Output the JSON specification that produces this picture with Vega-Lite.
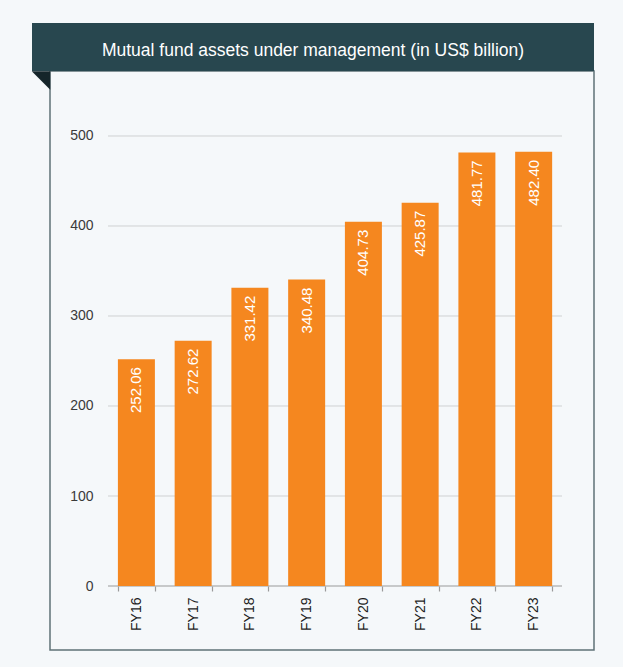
{
  "$schema": "https://vega.github.io/schema/vega-lite/v6.json",
  "width": 544,
  "height": 579,
  "autosize": {"type": "none"},
  "padding": {"left": 50, "top": 71, "right": 29, "bottom": 17},
  "background": "#f5f8fa",
  "config": {
    "font": "Liberation Sans",
    "view": {"stroke": "#5f7177", "strokeWidth": 1.5}
  },
  "datasets": {
    "aum": [
      {"year": "FY16", "value": 252.06},
      {"year": "FY17", "value": 272.62},
      {"year": "FY18", "value": 331.42},
      {"year": "FY19", "value": 340.48},
      {"year": "FY20", "value": 404.73},
      {"year": "FY21", "value": 425.87},
      {"year": "FY22", "value": 481.77},
      {"year": "FY23", "value": 482.40}
    ],
    "grid": [{"tick": 100}, {"tick": 200}, {"tick": 300}, {"tick": 400}, {"tick": 500}],
    "heading": [{"text": "Mutual fund assets under management (in US$ billion)"}]
  },
  "layer": [
    {
      "data": {"name": "grid"},
      "mark": {"type": "rule", "color": "#cfd1d2", "strokeWidth": 1},
      "encoding": {
        "x": {"datum": "FY16", "type": "nominal", "bandPosition": -0.2676, "title": null},
        "x2": {"datum": "FY23", "bandPosition": 1.266},
        "y": {"field": "tick", "type": "quantitative", "title": null}
      }
    },
    {
      "data": {"name": "heading"},
      "mark": {"type": "rule", "color": "#9a9a9a", "strokeWidth": 1.2},
      "encoding": {
        "x": {"datum": "FY16", "type": "nominal", "bandPosition": -0.2676, "title": null},
        "x2": {"datum": "FY23", "bandPosition": 1.266},
        "y": {"datum": 0, "type": "quantitative", "title": null}
      }
    },
    {
      "data": {"name": "aum"},
      "mark": {"type": "bar", "color": "#f5871f"},
      "encoding": {
        "x": {
          "field": "year",
          "type": "nominal",
          "title": null,
          "scale": {
            "domain": ["FY16", "FY17", "FY18", "FY19", "FY20", "FY21", "FY22", "FY23"],
            "paddingInner": 0.348,
            "paddingOuter": 0.967,
            "align": 0.6187
          },
          "axis": {
            "orient": "bottom",
            "offset": -64,
            "domain": false,
            "ticks": true,
            "tickBand": "extent",
            "tickSize": 5,
            "tickColor": "#9a9a9a",
            "tickWidth": 1.2,
            "labelAngle": -90,
            "labelPadding": 6,
            "labelFontSize": 14,
            "labelColor": "#1e1e1e",
            "grid": false
          }
        },
        "y": {
          "field": "value",
          "type": "quantitative",
          "title": null,
          "scale": {"domain": [-71.11, 572.22], "nice": false, "zero": false},
          "axis": {
            "offset": -58,
            "values": [0, 100, 200, 300, 400, 500],
            "domain": false,
            "ticks": false,
            "grid": false,
            "labelPadding": 15,
            "labelFontSize": 14,
            "labelColor": "#3a3a3a"
          }
        }
      }
    },
    {
      "data": {"name": "aum"},
      "mark": {"type": "text", "angle": 270, "align": "right", "baseline": "middle", "dx": -8, "fill": "#ffffff", "fontSize": 15},
      "encoding": {
        "x": {"field": "year", "type": "nominal", "title": null},
        "y": {"field": "value", "type": "quantitative", "title": null},
        "text": {"field": "value", "type": "quantitative", "format": ".2f"}
      }
    },
    {
      "data": {"name": "heading"},
      "mark": {"type": "rect", "fill": "#28474f"},
      "encoding": {
        "x": {"datum": "FY16", "type": "nominal", "bandPosition": -2.3216, "title": null},
        "x2": {"datum": "FY23", "bandPosition": 2.131},
        "y": {"datum": 572.22, "type": "quantitative", "title": null},
        "y2": {"datum": 625.56}
      }
    },
    {
      "data": {"name": "heading"},
      "mark": {"type": "point", "shape": "M -1 -1 L 1 -1 L 1 1 Z", "filled": true, "fill": "#15252a", "opacity": 1, "size": 342, "strokeWidth": 0},
      "encoding": {
        "x": {"datum": "FY16", "type": "nominal", "bandPosition": -2.078, "title": null},
        "y": {"datum": 561.67, "type": "quantitative", "title": null}
      }
    },
    {
      "data": {"name": "heading"},
      "mark": {"type": "text", "fill": "#ffffff", "fontSize": 17.5, "align": "center", "baseline": "alphabetic", "dx": -9},
      "encoding": {
        "y": {"datum": 589.2, "type": "quantitative", "title": null},
        "text": {"field": "text", "type": "nominal"}
      }
    }
  ]
}
